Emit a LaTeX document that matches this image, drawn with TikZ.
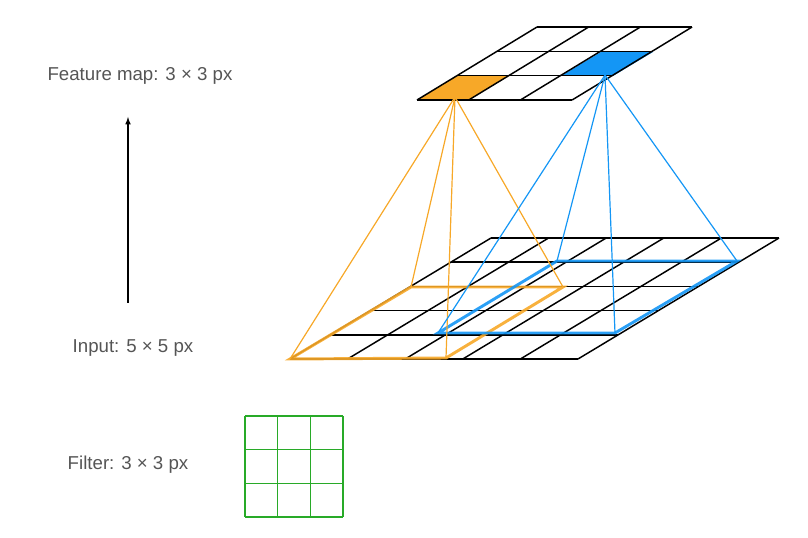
\documentclass[tikz,border=0pt]{standalone}
\usepackage{fontspec}
\setmainfont{Liberation Sans}
\begin{document}
\begin{tikzpicture}[x=0.75pt,y=-0.75pt,
  grid/.style={black,line width=1.1pt},
  orl/.style={draw=orng,line width=0.9pt},
  bll/.style={draw=blu,line width=0.9pt},
  lbl/.style={text=txtg,font=\fontsize{14}{16}\selectfont,anchor=center}]
\definecolor{orng}{RGB}{247,168,40}
\definecolor{blu}{RGB}{20,150,245}
\definecolor{grn}{RGB}{40,170,40}
\definecolor{txtg}{RGB}{85,85,85}
\useasboundingbox (0,0) rectangle (808,538);
% top feature map
\fill[orng] (417,100) -- (469,100) -- (509,76) -- (457,76) -- cycle;
\fill[blu] (561,76) -- (613,76) -- (653,52) -- (601,52) -- cycle;
\foreach \i in {0,...,3}{
  \draw[grid] (417+40*\i,100-24.3*\i) -- ++(155,0);
  \draw[grid] (417+51.7*\i,100) -- ++(120,-73);
}
% input grid
\foreach \i in {0,...,5}{
  \draw[grid] (290+40.2*\i,359-24.2*\i) -- ++(288,0);
  \draw[grid] (290+57.6*\i,359) -- ++(201,-121);
}
% windows
\coordinate (oc) at (455,97);
\coordinate (bc) at (605,75);
\coordinate (o1) at (290,359); \coordinate (o2) at (446,358);
\coordinate (o3) at (563,287); \coordinate (o4) at (411,287);
\coordinate (b1) at (438,333); \coordinate (b2) at (615,333);
\coordinate (b3) at (737,261); \coordinate (b4) at (557,261);
\draw[orng,line width=2.2pt,opacity=0.9] (o1)--(o2)--(o3)--(o4)--cycle;
\draw[blu,line width=2.2pt,opacity=0.9] (b1)--(b2)--(b3)--(b4)--cycle;
\foreach \p in {o1,o2,o3,o4} \draw[orl] (oc) -- (\p);
\foreach \p in {b1,b2,b3,b4} \draw[bll] (bc) -- (\p);
% arrow
\coordinate (a1) at (128,303); \coordinate (a2) at (128,117);
\draw[-latex,line width=0.9pt] (a1) -- (a2);
% labels
\node[lbl] (fm) at (140,76) {Feature map: 3 × 3 px};
\node[lbl] (in) at (133,348) {Input: 5 × 5 px};
\node[lbl] (fi) at (128,465) {Filter: 3 × 3 px};
% filter
\foreach \i in {0,...,3}{
  \draw[grn,line width=1.1pt] (245+32.7*\i,416) -- ++(0,101);
  \draw[grn,line width=1.1pt] (245,416+33.7*\i) -- ++(98,0);
}
\end{tikzpicture}
\end{document}
